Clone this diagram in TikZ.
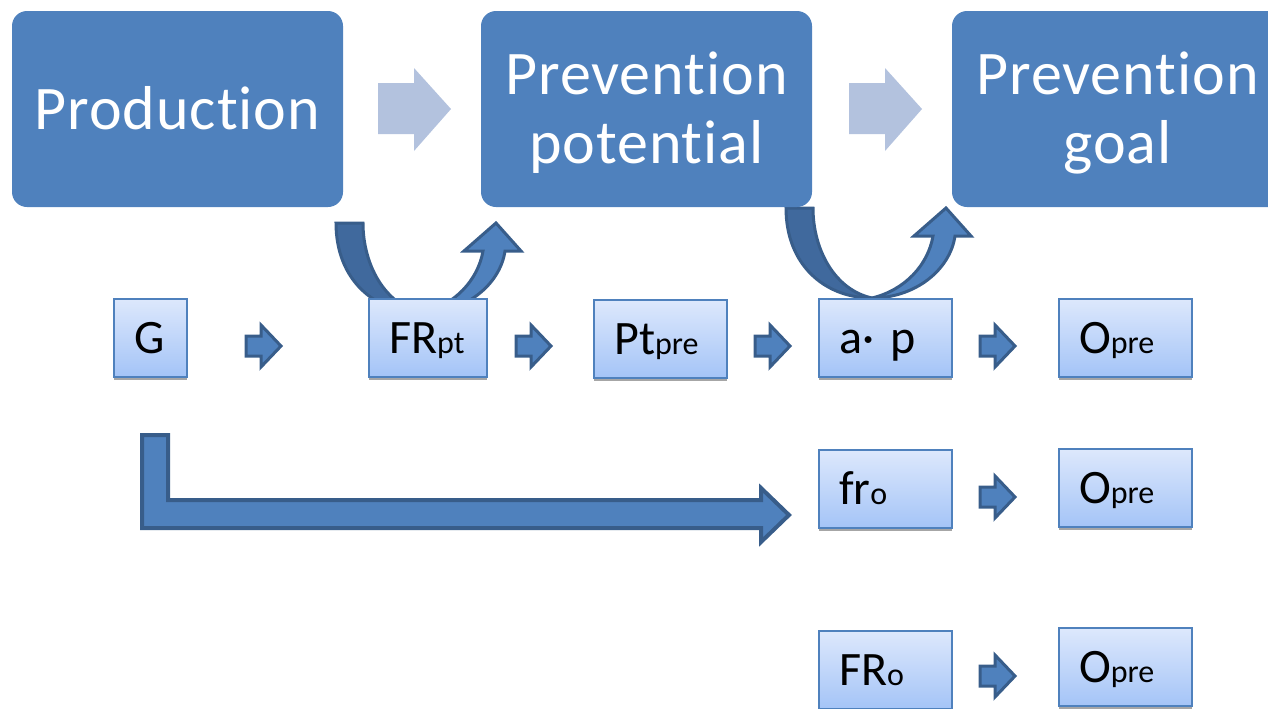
\documentclass[tikz,border=0pt]{standalone}
\usepackage{fontspec}
\setmainfont{Carlito}[Ligatures=NoCommon]
\newfontfamily\stagefont{Carlito}[Ligatures=NoCommon, LetterSpace=1.5]
\usetikzlibrary{shadows}
\definecolor{stageblue}{RGB}{79,129,189}
\definecolor{stepgrey}{RGB}{179,194,222}
\definecolor{edgeblue}{RGB}{56,93,138}
\definecolor{armblue}{RGB}{64,105,157}
\definecolor{boxtop}{RGB}{221,232,252}
\definecolor{boxbottom}{RGB}{164,196,247}
\newcommand{\subtxt}[1]{{\fontsize{16}{16}\selectfont #1}}
\tikzset{
	stagebox/.style={fill=stageblue, rounded corners=7.5pt, text=white, inner sep=0pt,
		minimum width=165.5pt, minimum height=98pt, text width=160pt, align=center,
		font=\stagefont\fontsize{31}{34.5}\selectfont, text height=20pt, text depth=0pt},
	valbox/.style={draw=stageblue, line width=1pt, top color=boxtop, bottom color=boxbottom,
		inner xsep=10pt, inner ysep=0pt, minimum height=39pt, align=left,
		font=\fontsize{24}{26}\selectfont, text height=15.5pt, text depth=0pt,
		drop shadow={shadow xshift=0pt, shadow yshift=-1.5pt, fill=gray!70, opacity=1}},
	steparrow/.style={fill=stepgrey},
	blockarrow/.style={fill=stageblue, draw=edgeblue, line width=1.5pt, line join=miter},
	uturn/.pic={
		\filldraw[fill=armblue, draw=edgeblue, line width=1.5pt]
			(-86,-90) .. controls (-86,-33) and (-47,0) .. (0,0)
			.. controls (-37,-8) and (-59,-48) .. (-59,-90) -- cycle;
		\filldraw[fill=stageblue, draw=edgeblue, line width=1.5pt]
			(0,0) .. controls (43,0) and (78,-28) .. (83,-62) -- (99,-62) -- (74,-90)
			-- (42,-62) -- (61,-62) .. controls (56,-33) and (33,-8) .. (0,0) -- cycle;
	}
}
\begin{document}
\begin{tikzpicture}[x=0.5pt, y=-0.5pt]
	\useasboundingbox (0,0) rectangle (1268,708);
	\clip (0,0) rectangle (1268,708);
	\foreach \x in {378,849}
		\fill[steparrow, shift={(\x,109)}] (0,-26) -- (36,-26) -- (36,-41) -- (73,0) -- (36,42) -- (36,25) -- (0,25) -- cycle;
	\pic at (422,313) {uturn};
	\pic at (872,298) {uturn};
	\node[stagebox] (prod) at (177.5,109) {Production};
	\node[stagebox, text depth=34.5pt] (potential) at (646.5,109) {Prevention\\potential};
	\node[stagebox, text depth=34.5pt] (goal) at (1117.5,109) {Prevention\\goal};
	\draw[blockarrow, line width=2pt] (142,435) -- (168,435) -- (168,500) -- (761,500) -- (761,488)
		-- (789,515) -- (761,542) -- (761,528) -- (142,528) -- cycle;
	\foreach \x/\y in {246/346, 516/346, 755/346, 980/346, 980/497, 980/676}
		\draw[blockarrow, shift={(\x,\y)}] (0,-10) -- (15,-10) -- (15,-21) -- (35,0) -- (15,21) -- (15,10) -- (0,10) -- cycle;
	\node[valbox, text width=16.5pt] (g) at (150.5,337.5) {G};
	\node[valbox, text width=39pt] (frpt) at (428,337.5) {FR\subtxt{pt}};
	\node[valbox, text width=46.5pt] (ptpre) at (660.5,339) {Pt\subtxt{pre}};
	\node[valbox, text width=46.5pt] (ap) at (885.5,337.5) {a· p};
	\node[valbox, text width=46.5pt] (opreA) at (1125.5,337.5) {O\subtxt{pre}};
	\node[valbox, text width=46.5pt] (fro) at (885.5,489) {fr\subtxt{o}};
	\node[valbox, text width=46.5pt] (opreB) at (1125.5,488) {O\subtxt{pre}};
	\node[valbox, text width=46.5pt] (FRo) at (885.5,670) {FR\subtxt{o}};
	\node[valbox, text width=46.5pt] (opreC) at (1125.5,667) {O\subtxt{pre}};
\end{tikzpicture}
\end{document}
